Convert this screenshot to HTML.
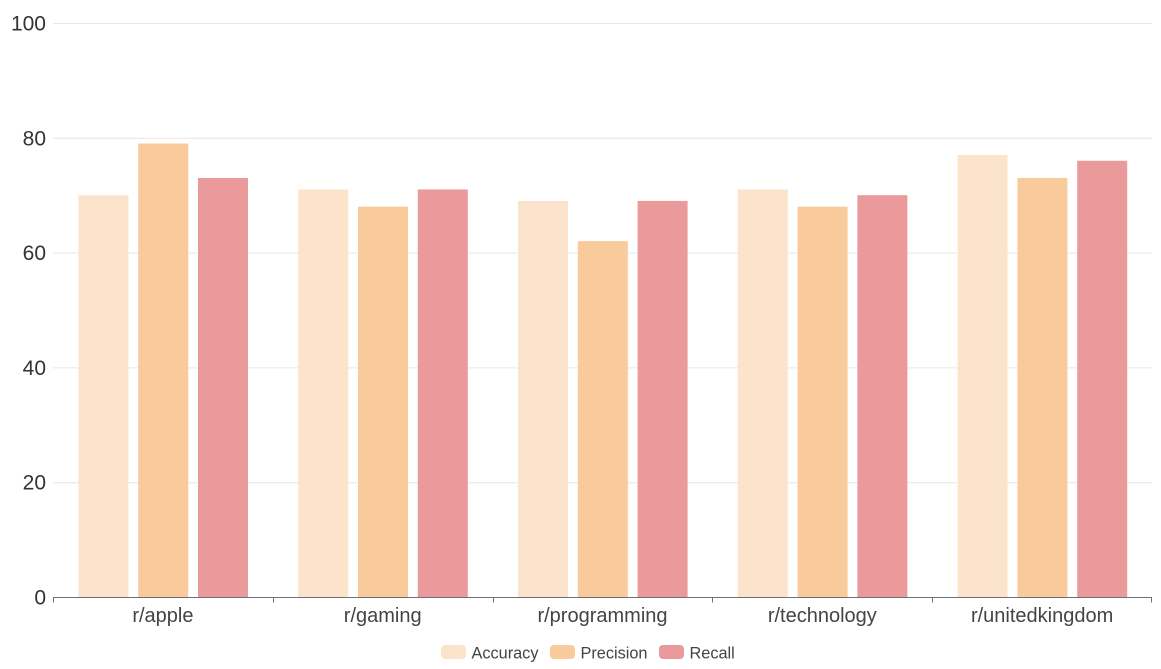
<!DOCTYPE html>
<html>
<head>
<meta charset="utf-8">
<style>
html,body{margin:0;padding:0;background:#fff;width:1161px;height:669px;overflow:hidden}
svg{display:block}
text{font-family:"Liberation Sans","Noto Sans CJK SC",sans-serif}
</style>
</head>
<body>
<svg id="chart" width="1161" height="669" viewBox="0 0 1161 669" xmlns="http://www.w3.org/2000/svg"></svg>
<script>
const categories = ["r/apple", "r/gaming", "r/programming", "r/technology", "r/unitedkingdom"];
const accuracy = [70, 71, 69, 71, 77];
const precision = [79, 68, 62, 68, 73];
const recall = [73, 71, 69, 70, 76];
const yTicks = [0, 20, 40, 60, 80, 100];
const seriesNames = ["Accuracy", "Precision", "Recall"];

const colors = ["#fce4cc", "#f9ca9b", "#ea9a9b"];
const allSeries = [accuracy, precision, recall];
const NS = "http://www.w3.org/2000/svg";
const svg = document.getElementById("chart");
const left = 53, right = 1152, top_ = 23.5, bottom = 597.5;
const yMax = 100;
const band = (right - left) / categories.length;
const barW = 50, barStep = 59.8, barInset = 25.4, barLift = 0.5;

function y(v) { return bottom - (v / yMax) * (bottom - top_); }
function bandX(i) { return left + band * i; }
function barX(i, s) {
  return bandX(i) + barInset + s * barStep;
}
function mk(tag, attrs, parent) {
  const el = document.createElementNS(NS, tag);
  for (const k in attrs) el.setAttribute(k, attrs[k]);
  (parent || svg).appendChild(el);
  return el;
}

yTicks.forEach(function (t) {
  if (t !== 0) {
    const g = mk("line", { x1: left, x2: right, y1: y(t), y2: y(t), stroke: "#e6e6e6", "stroke-width": 1 });
    
    
  }
  const l = mk("text", { x: 46, y: y(t) + 7, "text-anchor": "end", "font-size": 21, fill: "#333" });
  l.textContent = t;
  
  
});

allSeries.forEach(function (vals, s) {
  vals.forEach(function (v, i) {
    const top = y(v) - barLift;
    const r = mk("rect", { x: barX(i, s), y: top, width: barW, height: bottom - top, fill: colors[s] });
    
    
  });
});

const axis = mk("line", { x1: left, x2: right, y1: bottom, y2: bottom, stroke: "#6e7079", "stroke-width": 1 });



for (let i = 0; i <= categories.length; i++) {
  const x0 = Math.round(bandX(i)) + 0.5 - (i === categories.length ? 1 : 0);
  const tick = mk("line", { x1: x0, x2: x0, y1: bottom, y2: bottom + 5, stroke: "#6e7079", "stroke-width": 1 });
  
  
}

categories.forEach(function (c, i) {
  const t = mk("text", { x: bandX(i) + band / 2, y: 622, "text-anchor": "middle", "font-size": 20, fill: "#444" });
  t.textContent = c;
  
  
});

const legendRectX = [441, 550, 659];
seriesNames.forEach(function (n, s) {
  const g = mk("g", {});
  
  
  const r = mk("rect", { x: legendRectX[s], y: 645, width: 25, height: 14, rx: 4, ry: 4, fill: colors[s] }, g);
  
  
  const t = mk("text", { x: legendRectX[s] + 30.5, y: 658.5, "font-size": 16.3, fill: "#444" }, g);
  t.textContent = n;
  
  
});
</script>
</body>
</html>
